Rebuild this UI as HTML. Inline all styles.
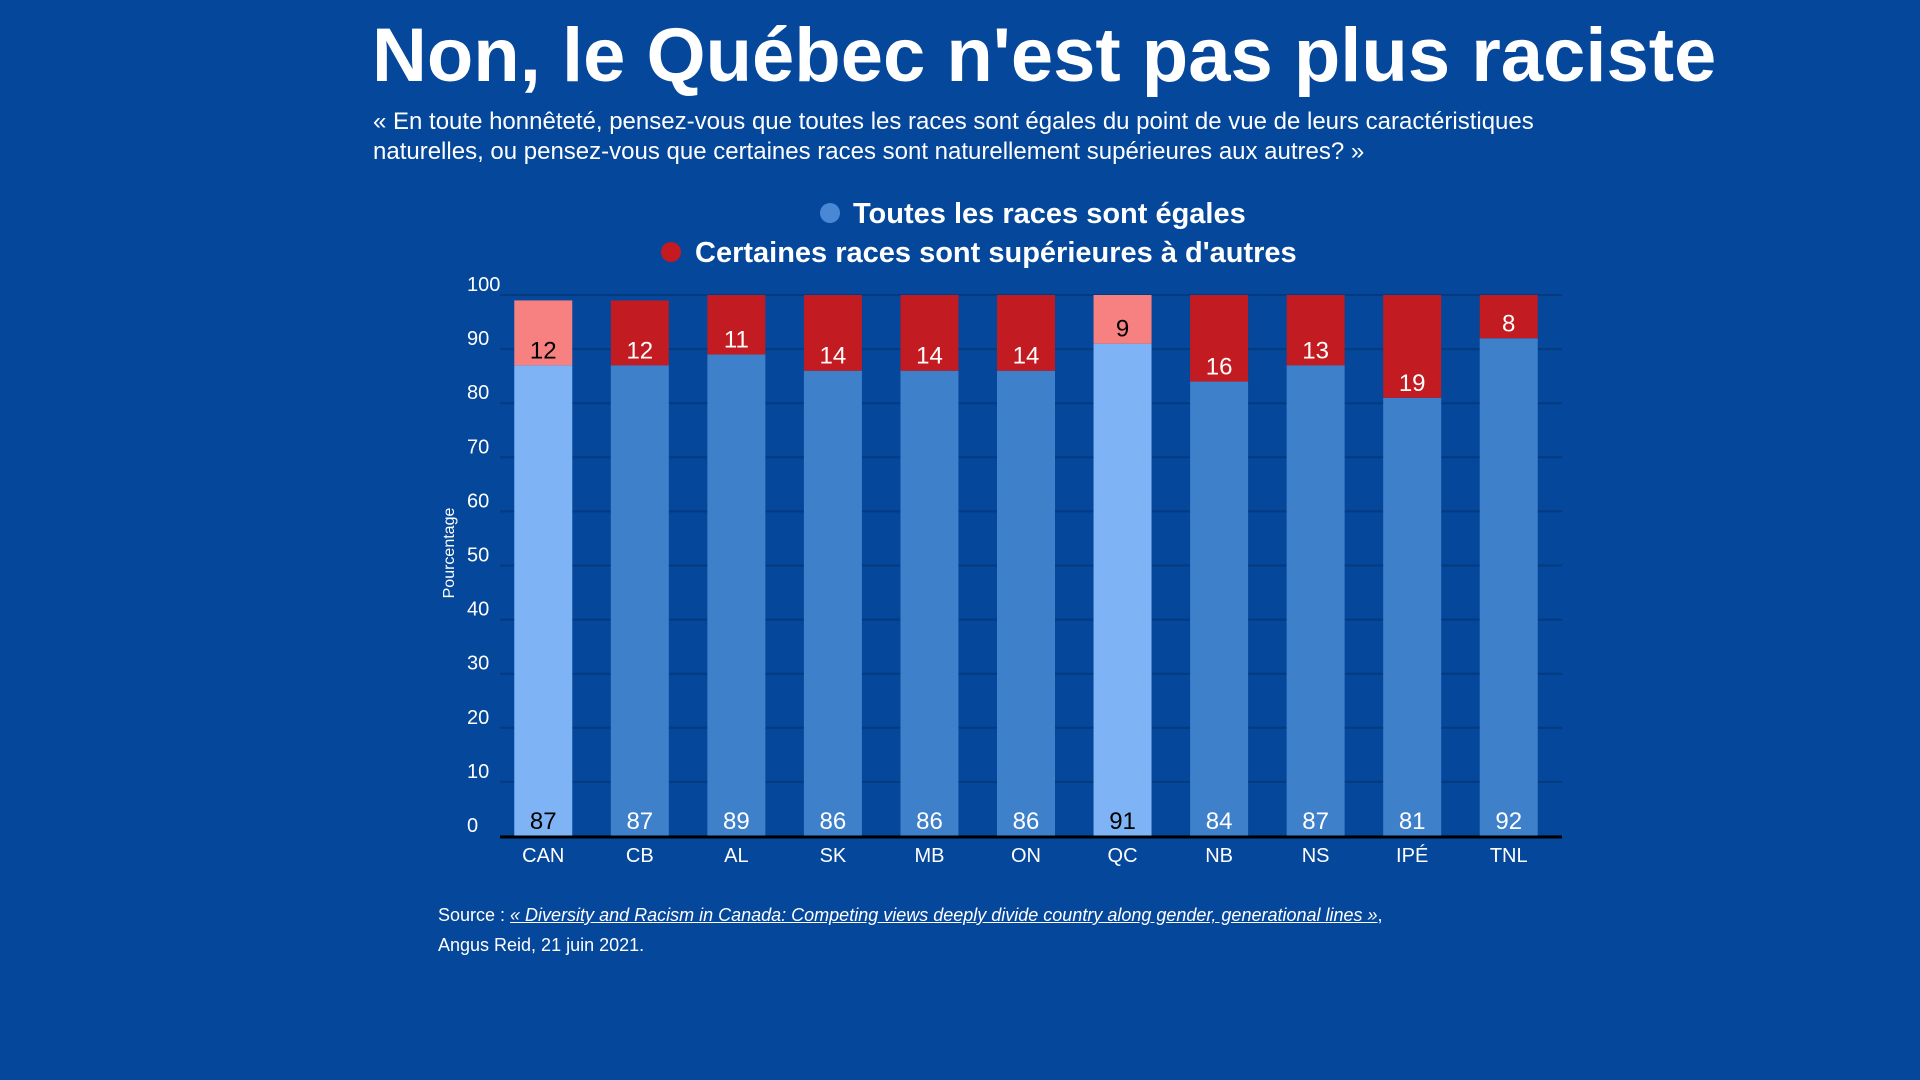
<!DOCTYPE html>
<html><head><meta charset="utf-8"><style>
body{margin:0;width:1920px;height:1080px;background:#05479a;font-family:"Liberation Sans",sans-serif;color:#fff;overflow:hidden;position:relative}
.t{position:absolute;white-space:nowrap}
</style></head><body>
<div class="t" style="left:372px;top:12px;font-size:76px;font-weight:bold">Non, le Québec n'est pas plus raciste</div>
<div class="t" style="left:373px;top:107px;font-size:24px;line-height:30px">« En toute honnêteté, pensez-vous que toutes les races sont égales du point de vue de leurs caractéristiques<br>naturelles, ou pensez-vous que certaines races sont naturellement supérieures aux autres? »</div>
<svg width="1920" height="1080" style="position:absolute;left:0;top:0" id="chart">
<g>
<circle cx="830" cy="213" r="10" fill="#4a88d6"/>
<text x="853" y="223" font-size="29" font-weight="bold" fill="#fff">Toutes les races sont égales</text>
<circle cx="671" cy="252" r="10" fill="#c51a22"/>
<text x="695" y="262" font-size="29" font-weight="bold" fill="#fff">Certaines races sont supérieures à d'autres</text>
</g>
<text transform="translate(454,553) rotate(-90)" text-anchor="middle" font-size="16" fill="#fff">Pourcentage</text>
<g id="grid"></g><g id="bars"></g>
<line x1="500" x2="1562" y1="837" y2="837" stroke="#000" stroke-width="3"/>
</svg>
<div class="t" style="left:438px;top:900px;font-size:18px;line-height:30px">Source : <u><i>« Diversity and Racism in Canada: Competing views deeply divide country along gender, generational lines »</i></u>,<br>Angus Reid, 21 juin 2021.</div>
<script>
const categories=["CAN","CB","AL","SK","MB","ON","QC","NB","NS","IPÉ","TNL"];
const egales=[87,87,89,86,86,86,91,84,87,81,92];
const superieures=[12,12,11,14,14,14,9,16,13,19,8];
const highlighted=["CAN","QC"];
const yTicks=[0,10,20,30,40,50,60,70,80,90,100];
const NS="http://www.w3.org/2000/svg";
const x0=500,x1=1562,yBase=836,yTop=295,bw=58;
const y=v=>yBase-(yBase-yTop)*v/100;
const step=(x1-x0)/categories.length;
const xc=i=>x0+step*(i+0.5)-5;
function mk(tag,attrs,parent){const e=document.createElementNS(NS,tag);for(const k in attrs)e.setAttribute(k,attrs[k]);parent.appendChild(e);return e;}
const grid=document.getElementById('grid'),bars=document.getElementById('bars');
yTicks.forEach(t=>{
 const l=mk('line',{x1:x0,x2:x1,y1:y(t),y2:y(t),stroke:'#043a80','stroke-width':2},grid);
 
 
 const tx=mk('text',{x:467,y:y(t)-4,'font-size':20,fill:'#fff'},grid);tx.textContent=t;
 
 
});
categories.forEach((c,i)=>{
 const hl=highlighted.includes(c),cx=xc(i);
 const b1=mk('rect',{x:cx-bw/2,y:y(egales[i]),width:bw,height:yBase-y(egales[i]),fill:hl?'#7eb4f6':'#3f80ca'},bars);
 
 
 const top=egales[i]+superieures[i];
 const b2=mk('rect',{x:cx-bw/2,y:y(top),width:bw,height:y(egales[i])-y(top),fill:hl?'#f78080':'#c21b21'},bars);
 
 
 const l1=mk('text',{x:cx,y:yBase-7,'text-anchor':'middle','font-size':24,fill:hl?'#000':'#fff'},bars);l1.textContent=egales[i];
 
 
 const l2=mk('text',{x:cx,y:y(egales[i])-7,'text-anchor':'middle','font-size':24,fill:hl?'#000':'#fff'},bars);l2.textContent=superieures[i];
 
 
 const xl=mk('text',{x:cx,y:862,'text-anchor':'middle','font-size':20,fill:'#fff'},bars);xl.textContent=c;
 
 
});
</script>
</body></html>
